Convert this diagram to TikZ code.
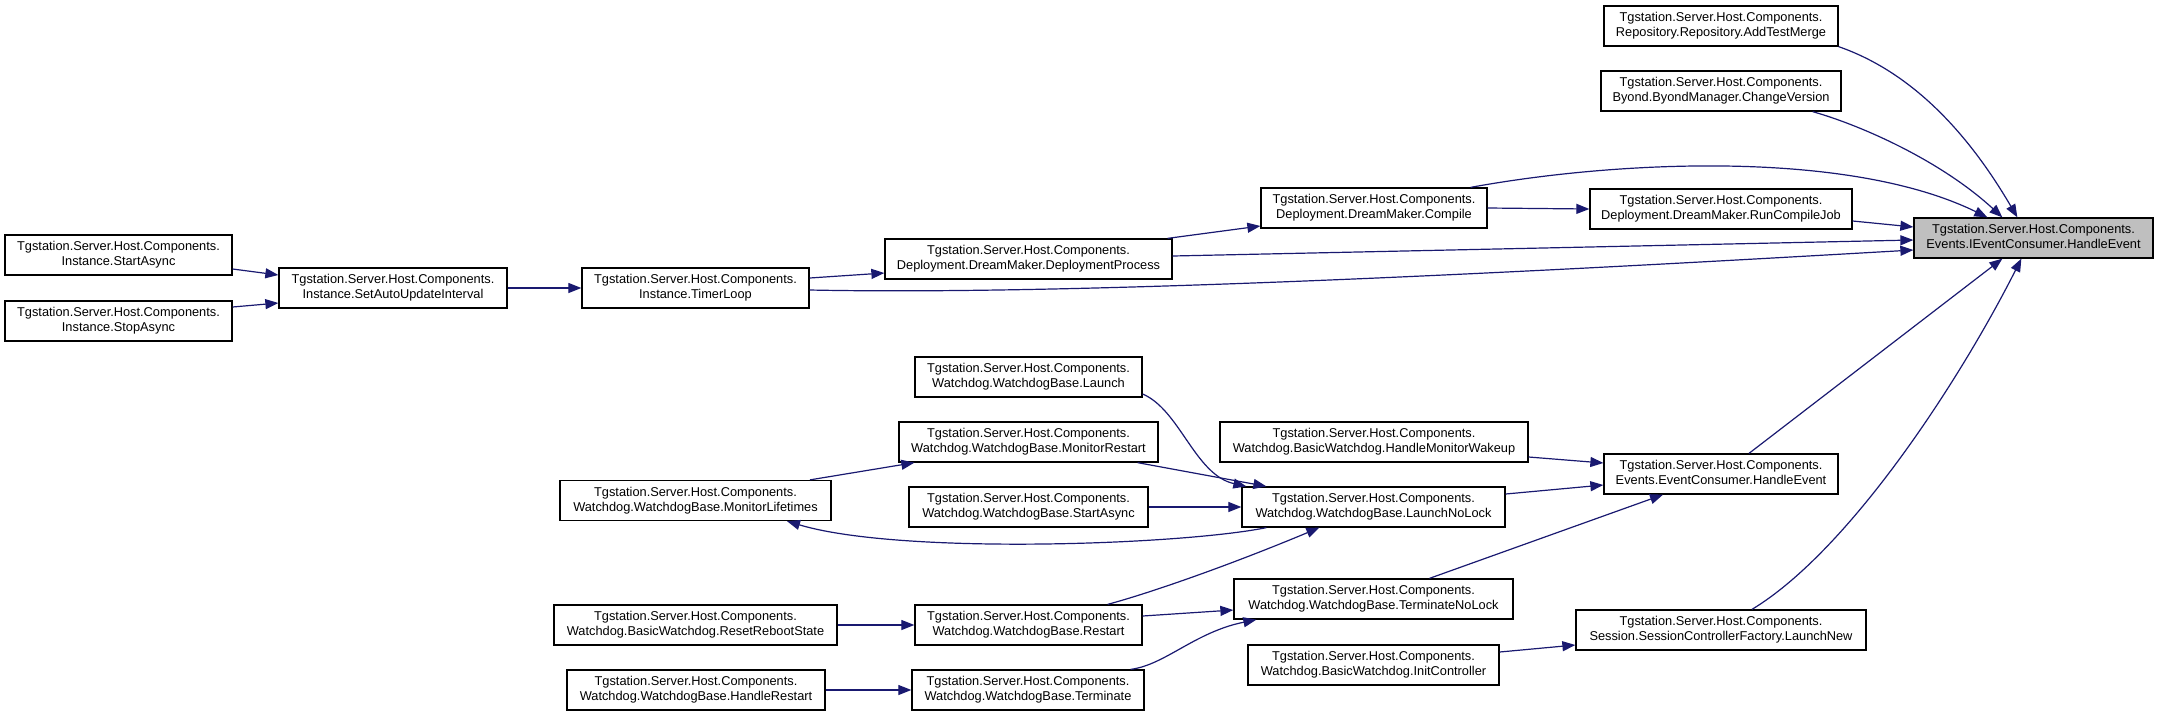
\documentclass[tikz,border=0pt]{standalone}
\usepackage{fontspec}
\setmainfont{Liberation Sans}
\usetikzlibrary{arrows.meta}
\definecolor{edgeblue}{RGB}{25,25,112}
\definecolor{rootgrey}{RGB}{191,191,191}
\newcommand{\dxl}[1]{Tgstation.Server.Host.Components.\\#1\vphantom{g}}
\begin{document}
\begin{tikzpicture}[x=1pt,y=-1pt,
  box/.style={draw=black, line width=1.3pt, fill=white, inner sep=0pt, minimum height=40pt, align=center, font=\fontsize{12.8pt}{15pt}\selectfont},
  root/.style={box, fill=rootgrey},
  edge/.style={draw=edgeblue, line width=1.2pt, -{Triangle[length=13pt,width=10pt]}}
]
\useasboundingbox (0,0) rectangle (2159,716);

\node[root, minimum width=239pt] (he)  at (2033.5,238) {\dxl{Events.IEventConsumer.HandleEvent}};
\node[box, minimum width=234pt]  (atm) at (1721,26)    {\dxl{Repository.Repository.AddTestMerge}};
\node[box, minimum width=240pt]  (cv)  at (1721,91)    {\dxl{Byond.ByondManager.ChangeVersion}};
\node[box, minimum width=262pt]  (rcj) at (1721,209)   {\dxl{Deployment.DreamMaker.RunCompileJob}};
\node[box, minimum width=226pt]  (cmp) at (1374,208)   {\dxl{Deployment.DreamMaker.Compile}};
\node[box, minimum width=287pt]  (dp)  at (1028.5,259) {\dxl{Deployment.DreamMaker.DeploymentProcess}};
\node[box, minimum width=227pt]  (tl)  at (695.5,288)  {\dxl{Instance.TimerLoop}};
\node[box, minimum width=228pt]  (sau) at (393,288)    {\dxl{Instance.SetAutoUpdateInterval}};
\node[box, minimum width=227pt]  (isa) at (118.5,255)  {\dxl{Instance.StartAsync}};
\node[box, minimum width=227pt]  (iso) at (118.5,321)  {\dxl{Instance.StopAsync}};
\node[box, minimum width=227pt]  (lch) at (1028.5,377) {\dxl{Watchdog.WatchdogBase.Launch}};
\node[box, minimum width=259pt]  (mr)  at (1028.5,442) {\dxl{Watchdog.WatchdogBase.MonitorRestart}};
\node[box, minimum width=239pt]  (wsa) at (1028.5,507) {\dxl{Watchdog.WatchdogBase.StartAsync}};
\node[box, minimum width=271pt]  (ml)  at (695.5,500.5){\dxl{Watchdog.WatchdogBase.MonitorLifetimes}};
\node[box, minimum width=308pt]  (hmw) at (1374,442)   {\dxl{Watchdog.BasicWatchdog.HandleMonitorWakeup}};
\node[box, minimum width=263pt]  (lnl) at (1373.5,507) {\dxl{Watchdog.WatchdogBase.LaunchNoLock}};
\node[box, minimum width=234pt]  (ec)  at (1721,474)   {\dxl{Events.EventConsumer.HandleEvent}};
\node[box, minimum width=279pt]  (tnl) at (1373.5,599) {\dxl{Watchdog.WatchdogBase.TerminateNoLock}};
\node[box, minimum width=251pt]  (ic)  at (1373.5,665) {\dxl{Watchdog.BasicWatchdog.InitController}};
\node[box, minimum width=290pt]  (ln)  at (1721,630)   {\dxl{Session.SessionControllerFactory.LaunchNew}};
\node[box, minimum width=227pt]  (rs)  at (1028.5,625) {\dxl{Watchdog.WatchdogBase.Restart}};
\node[box, minimum width=232pt]  (tm)  at (1028,690)   {\dxl{Watchdog.WatchdogBase.Terminate}};
\node[box, minimum width=283pt]  (rrs) at (695.5,625)  {\dxl{Watchdog.BasicWatchdog.ResetRebootState}};
\node[box, minimum width=258pt]  (hr)  at (696,690)    {\dxl{Watchdog.WatchdogBase.HandleRestart}};

\draw[edge] (atm.south east) .. controls (1920,75) and (1975,145) .. ([xshift=104pt]he.north west);
\draw[edge] ([xshift=-29pt]cv.south east) .. controls (1860,125) and (1940,160) .. ([xshift=89pt]he.north west);
\draw[edge] ([xshift=-17pt]cmp.north east) .. controls (1620,160) and (1850,150) .. ([xshift=74pt]he.north west);
\draw[edge] ([yshift=-12pt]rcj.east) -- ([yshift=11pt]he.west);
\draw[edge] ([yshift=3pt]dp.east) -- ([yshift=-2pt]he.west);
\draw[edge] ([yshift=-2pt]tl.east) .. controls (1100,296) and (1600,268) .. ([yshift=-12pt]he.west);
\draw[edge] ([xshift=28pt]ec.north) -- ([xshift=89pt]he.south west);
\draw[edge] ([xshift=31pt]ln.north) .. controls (1850,550) and (1960,380) .. ([xshift=108pt]he.south west);
\draw[edge] ([xshift=-5pt]dp.north east) -- ([yshift=-18pt]cmp.west);
\draw[edge] (cmp.east) -- (rcj.west);
\draw[edge] ([yshift=10pt]tl.east) -- ([yshift=-14pt]dp.west);
\draw[edge] (sau.east) -- (tl.west);
\draw[edge] ([yshift=-14pt]isa.east) -- ([yshift=13pt]sau.west);
\draw[edge] ([yshift=14pt]iso.east) -- ([yshift=-15pt]sau.west);
\draw[edge] ([yshift=-15pt]hmw.east) -- ([yshift=11pt]ec.west);
\draw[edge] ([yshift=13pt]lnl.east) -- ([yshift=-11pt]ec.west);
\draw[edge] ([xshift=56pt]tnl.north) -- ([xshift=-58pt]ec.south);
\draw[edge] ([yshift=13pt]ic.east) -- ([yshift=-15pt]ln.west);
\draw[edge] ([yshift=-17pt]lch.east) .. controls (1180,410) and (1195,475) .. ([xshift=5pt]lnl.north west);
\draw[edge] ([xshift=-21pt]mr.south east) -- ([xshift=25pt]lnl.north west);
\draw[edge] (wsa.east) -- (lnl.west);
\draw[edge] ([xshift=25pt]lnl.south west) .. controls (1180,545) and (900,555) .. ([xshift=91.5pt]ml.south);
\draw[edge] ([xshift=114.5pt]ml.north) -- ([xshift=16pt]mr.south west);
\draw[edge] (rrs.east) -- (rs.west);
\draw[edge] (hr.east) -- (tm.west);
\draw[edge] ([xshift=-35pt]rs.north east) .. controls (1150,593) and (1230,565) .. ([xshift=78pt]lnl.south west);
\draw[edge] ([yshift=9pt]rs.east) -- ([yshift=-11pt]tnl.west);
\draw[edge] ([xshift=-14pt]tm.north east) .. controls (1165,665) and (1195,632) .. ([xshift=23pt]tnl.south west);
\end{tikzpicture}
\end{document}
